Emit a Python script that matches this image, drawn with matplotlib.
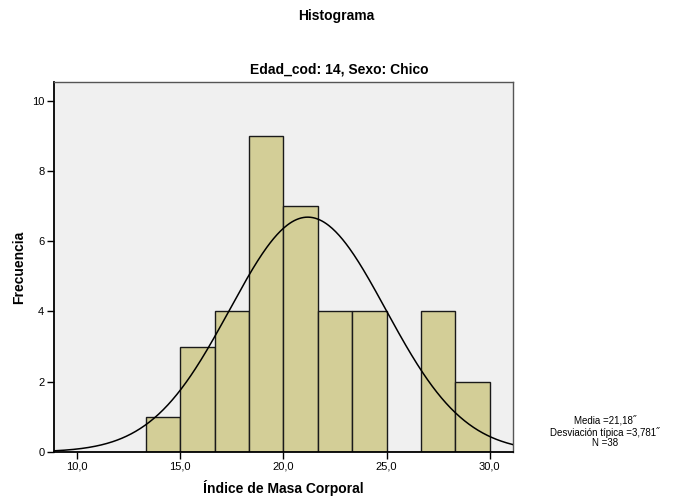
import numpy as np
import matplotlib
matplotlib.use("Agg")
import matplotlib.pyplot as plt

plt.rcParams['font.family'] = ['Liberation Sans', 'DejaVu Sans']

# histogram bins (IMC) and counts
bin_edges = [13.333, 15.0, 16.667, 18.333, 20.0, 21.667, 23.333, 25.0, 26.667, 28.333, 30.0]
counts = [1, 3, 4, 9, 7, 4, 4, 0, 4, 2]
media = 21.18
desv = 3.781
n = 38

xticks = [10, 15, 20, 25, 30]
xtick_labels = ["10,0", "15,0", "20,0", "25,0", "30,0"]
yticks = [0, 2, 4, 6, 8, 10]

fig = plt.figure(figsize=(6.73, 4.99), dpi=100)
ax = fig.add_axes([54 / 673, 1 - 452 / 499, (512.7 - 54) / 673, (452 - 82) / 499])
ax.set_facecolor('#f0f0f0')

widths = np.diff(bin_edges)
ax.bar(bin_edges[:-1], counts, width=widths, align='edge',
       color='#d3ce97', edgecolor='#1a1a1a', linewidth=1.0, zorder=2)

# normal curve scaled to counts
bw = widths[0]
xs = np.linspace(8.886, 31.11, 400)
ys = n * bw * np.exp(-0.5 * ((xs - media) / desv) ** 2) / (desv * np.sqrt(2 * np.pi))
ax.plot(xs, ys, color='black', linewidth=1.1, zorder=3)

ax.set_xlim(8.886, 31.11)
ax.set_ylim(0, 10.53)
ax.set_xticks(xticks)
ax.set_xticklabels(xtick_labels)
ax.set_yticks(yticks)
ax.tick_params(axis='both', labelsize=8, length=5, width=1, color='black', pad=2)

for s in ['left', 'bottom']:
    ax.spines[s].set_linewidth(1.3)
    ax.spines[s].set_color('black')
for s in ['top', 'right']:
    ax.spines[s].set_linewidth(1.0)
    ax.spines[s].set_color('#555555')

ax.set_xlabel('Índice de Masa Corporal', fontsize=10, fontweight='bold', labelpad=6)
ax.set_ylabel('Frecuencia', fontsize=10, fontweight='bold', labelpad=4)

fig.text(0.5, 1 - 16 / 499, 'Histograma', ha='center', va='center',
         fontsize=10, fontweight='bold')
fig.text(339 / 673, 1 - 70 / 499, 'Edad_cod: 14, Sexo: Chico', ha='center', va='center',
         fontsize=10, fontweight='bold')

fig.text(605 / 673, 1 - 432 / 499,
         'Media =21,18\u02dd\nDesviación típica =3,781\u02dd\nN =38',
         ha='center', va='center', fontsize=7, linespacing=1.0)

fig.savefig('out.png', dpi=100)
